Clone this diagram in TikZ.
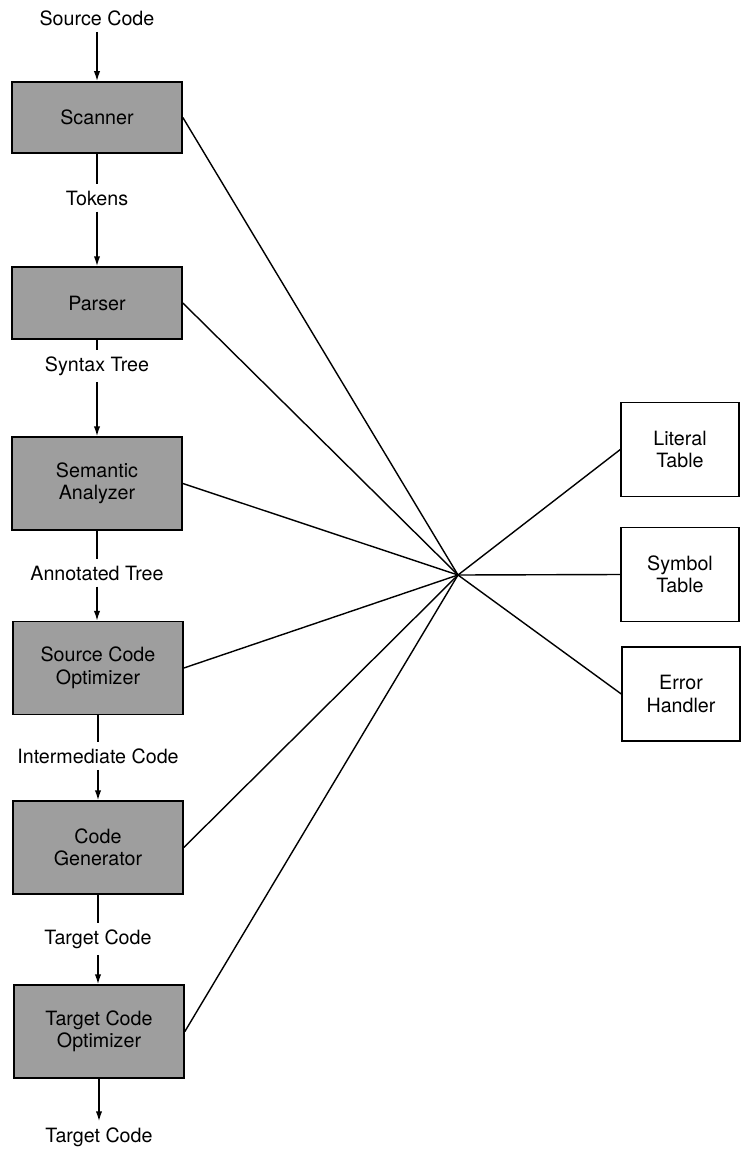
\documentclass[tikz,border=0pt]{standalone}
\usepackage{fontspec}
\setmainfont{TeX Gyre Heros}
\usepackage{tikz}
\usetikzlibrary{arrows.meta, positioning}
\tikzset{>={Latex[length=7pt,width=4.5pt]}}

\begin{document}
\begin{tikzpicture}[x=0.25mm, y=-0.25mm, line width=1pt,
		every node/.style={font=\fontsize{14}{16}\selectfont},
		phase/.style={draw, line width=1.2pt, fill=black!38, align=center, minimum width=42.5mm, minimum height=23.2mm, inner sep=2pt},
		tbl/.style={draw, align=center, minimum width=29.5mm, minimum height=23.5mm, inner sep=2pt},
		lbl/.style={inner sep=4pt}]
			\useasboundingbox (0,0) rectangle (740,1152);
			% phases of the compiler
			\node [lbl] (src) at (97,18) {Source Code};
			\node [phase, minimum height=17.8mm] (scan) at (97,117.5) {Scanner};
			\node [lbl] (tok) at (97,198) {Tokens};
			\node [phase, minimum height=18mm] (pars) at (97,303) {Parser};
			\node [lbl] (syn) at (97,366) {Syntax Tree};
			\node [phase] (sem) at (97,483.5) {Semantic\\Analyzer};
			\node [lbl] (ann) at (97,573) {Annotated Tree};
			\node [phase] (sopt) at (98,668) {Source Code\\Optimizer};
			\node [lbl] (inter) at (98,756) {Intermediate Code};
			\node [phase] (cgen) at (98,847.5) {Code\\Generator};
			\node [lbl] (tgt) at (98,939) {Target Code};
			\node [phase] (topt) at (99,1031.5) {Target Code\\Optimizer};
			\node [lbl] (out) at (99,1137) {Target Code};
			\draw [->] (src) -- (scan);
			\draw (scan) -- (tok);
			\draw [->] (tok) -- (pars);
			\draw (pars) -- (syn);
			\draw [->] (syn) -- (sem);
			\draw (sem) -- (ann);
			\draw [->] (ann.south) -- (ann.south |- sopt.north);
			\draw (sopt) -- (inter);
			\draw [->] (inter) -- (cgen);
			\draw (cgen) -- (tgt);
			\draw [->] (tgt.south) -- (tgt.south |- topt.north);
			\draw [->] (topt) -- (out);
			% tables on the right
			\node [tbl] (lit) at (680,449.5) {Literal\\Table};
			\node [tbl] (sym) at (680,574.5) {Symbol\\Table};
			\node [tbl] (err) at (681,694) {Error\\Handler};
			\coordinate (hub) at (458,575);
			\draw (scan.east) -- (hub);
			\draw (pars.east) -- (hub);
			\draw (sem.east) -- (hub);
			\draw (sopt.east) -- (hub);
			\draw (cgen.east) -- (hub);
			\draw (topt.east) -- (hub);
			\draw (hub) -- (lit.west);
			\draw (hub) -- (sym.west);
			\draw (hub) -- (err.west);
		\end{tikzpicture}
\end{document}
